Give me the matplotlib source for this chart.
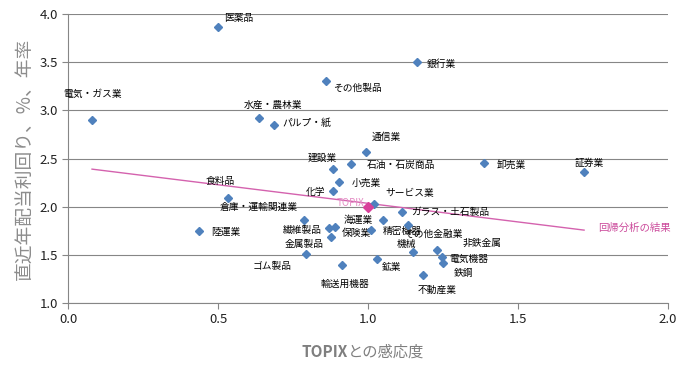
import matplotlib
matplotlib.use("Agg")
import matplotlib.pyplot as plt

plt.rcParams["font.family"] = ["Noto Sans CJK JP", "DejaVu Sans"]

# ── Data ─────────────────────────────────────────────────────────────────
sectors = [
    "医薬品", "銀行業", "その他製品", "電気・ガス業", "水産・農林業", "パルプ・紙",
    "通信業", "建設業", "石油・石炭商品", "小売業", "化学", "サービス業",
    "食料品", "倉庫・運輸関連業", "陸運業", "繊維製品", "保険業", "金属製品",
    "ゴム製品", "輸送用機器", "鉱業", "精密機器", "海運業", "ガラス・土石製品",
    "その他金融業", "機械", "非鉄金属", "電気機器", "鉄鋼", "不動産業",
    "卸売業", "証券業",
]
beta = [
    0.50, 1.164, 0.86, 0.08, 0.638, 0.687,
    0.993, 0.884, 0.944, 0.904, 0.884, 1.02,
    0.534, 0.787, 0.438, 0.871, 0.891, 0.878,
    0.793, 0.913, 1.031, 1.011, 1.051, 1.114,
    1.134, 1.151, 1.23, 1.248, 1.251, 1.184,
    1.387, 1.719,
]
div_yield = [
    3.87, 3.50, 3.30, 2.90, 2.92, 2.85,
    2.564, 2.387, 2.44, 2.256, 2.165, 2.03,
    2.09, 1.862, 1.75, 1.78, 1.79, 1.69,
    1.505, 1.40, 1.456, 1.757, 1.861, 1.94,
    1.81, 1.525, 1.55, 1.48, 1.42, 1.29,
    2.45, 2.356,
]
topix_x, topix_y = 1.0, 2.0
reg_x = [0.08, 1.72]
reg_y = [2.39, 1.757]

# ── Label placement (pixel offsets from each point, + down) ──────────────
label_pos = [
    (6, -9, "left"), (10, 2, "left"), (7, 6, "left"), (-29, -26, "left"),
    (-16, -13, "left"), (8, -2, "left"),
    (6, -15, "left"), (4, -12, "right"), (16, 1, "left"), (12, 1, "left"),
    (-8, 1, "right"), (11, -11, "left"),
    (-23, -17, "left"), (-6, -13, "right"), (12, 1, "left"), (-8, 2, "right"),
    (6, 6, "left"), (-8, 7, "right"),
    (-14, 12, "right"), (3, 19, "center"), (4, 8, "left"), (11, 1, "left"),
    (-10, 0, "right"), (9, 0, "left"),
    (-4, 9, "left"), (-7, -8, "center"), (26, -7, "left"), (7, 2, "left"),
    (10, 10, "left"), (-6, 15, "left"),
    (12, 1, "left"), (-9, -9, "left"),
]

BLUE = "#4F81BD"
PINK = "#CC4C9C"
GRID = "#868686"

fig = plt.figure(figsize=(6.85, 3.66), dpi=100)
ax = fig.add_axes([0.0993, 0.172, 0.876, 0.7897])

ax.plot(reg_x, reg_y, color="#D462AE", linewidth=1.0, zorder=2)
ax.plot(beta, div_yield, linestyle="none", marker="D", markersize=4.3,
        color=BLUE, markeredgecolor=BLUE, zorder=4)
ax.plot([topix_x], [topix_y], linestyle="none", marker="D", markersize=5,
        color="#D8409A", markeredgecolor="#D8409A", zorder=5)

for name, x, y, (dx, dy, ha) in zip(sectors, beta, div_yield, label_pos):
    ax.annotate(name, (x, y), xytext=(dx, -dy), textcoords="offset pixels",
                ha=ha, va="center", fontsize=7, color="#000000", zorder=3)
ax.annotate("TOPIX", (topix_x, topix_y), xytext=(-4, 4),
            textcoords="offset pixels", ha="right", va="center",
            fontsize=7, color="#E48CC4", zorder=3)
ax.annotate("回帰分析の結果", (reg_x[-1], reg_y[-1]), xytext=(14, 2),
            textcoords="offset pixels", ha="left", va="center",
            fontsize=7.5, color=PINK)

ax.set_xlim(0, 2.0)
ax.set_ylim(1.0, 4.0)
ax.set_xticks([0.0, 0.5, 1.0, 1.5, 2.0])
ax.set_yticks([1.0, 1.5, 2.0, 2.5, 3.0, 3.5, 4.0])
ax.xaxis.set_major_formatter(matplotlib.ticker.FormatStrFormatter("%.1f"))
ax.yaxis.set_major_formatter(matplotlib.ticker.FormatStrFormatter("%.1f"))
ax.grid(axis="y", color=GRID, linewidth=0.8)
ax.set_axisbelow(True)
for side in ("top", "right"):
    ax.spines[side].set_visible(False)
for side in ("left", "bottom"):
    ax.spines[side].set_color(GRID)
    ax.spines[side].set_linewidth(0.8)
ax.tick_params(direction="out", length=4, width=0.8, color=GRID,
               labelsize=9.5, labelcolor="#222222", pad=3)

# x label: bold latin part, regular kana/kanji part
fig.text(0.508, 0.038, "TOPIX", ha="right", va="center", fontsize=11,
         color="#7F7F7F", fontweight="bold")
fig.text(0.508, 0.038, "との感応度", ha="left", va="center", fontsize=11,
         color="#7F7F7F")
ax.set_ylabel("直近年配当利回り、%、年率", fontsize=13.5, color="#8C8C8C",
              labelpad=4)

fig.savefig("out.png", dpi=100)
